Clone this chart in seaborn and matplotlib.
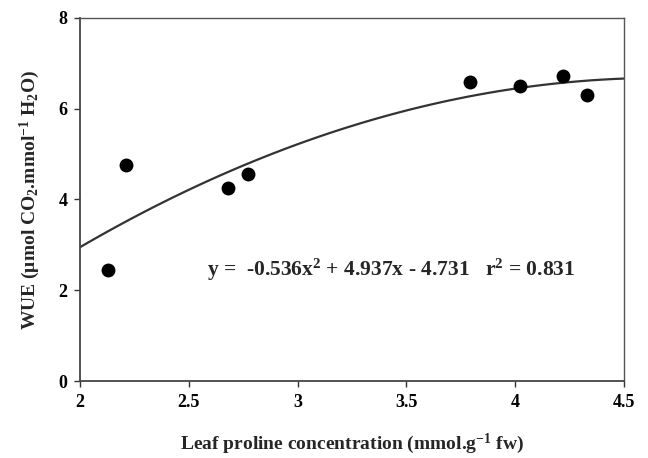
import numpy as np
import pandas as pd
import seaborn as sns
import matplotlib.pyplot as plt

# values
proline = [2.13, 2.21, 2.68, 2.77, 3.79, 4.02, 4.22, 4.33]
wue = [2.45, 4.75, 4.25, 4.55, 6.59, 6.50, 6.73, 6.30]
x_ticks = [2, 2.5, 3, 3.5, 4, 4.5]
x_tick_labels = ['2', '2.5', '3', '3.5', '4', '4.5']
y_ticks = [0, 2, 4, 6, 8]
eq_text = r'y =  -0.536x$^{2}$ + 4.937x - 4.731   r$^{2}$ = 0.831'

df = pd.DataFrame({'proline': proline, 'wue': wue})

sns.set_style('ticks')
plt.rcParams['font.family'] = ['Liberation Serif', 'DejaVu Serif']
plt.rcParams['font.weight'] = 'bold'
plt.rcParams['mathtext.fontset'] = 'custom'
plt.rcParams['mathtext.rm'] = 'Liberation Serif:bold'
plt.rcParams['mathtext.it'] = 'Liberation Serif:bold'
plt.rcParams['mathtext.bf'] = 'Liberation Serif:bold'

fig = plt.figure(figsize=(6.48, 4.58), dpi=100)
ax = fig.add_axes([0.1235, 0.168, 0.8395, 0.793])
ax.set_xlim(2, 4.5)
ax.set_ylim(0, 8)

sns.regplot(data=df, x='proline', y='wue', order=2, ci=None, truncate=False,
            scatter=False, ax=ax, line_kws={'color': '#333333', 'lw': 1.6})
sns.scatterplot(data=df, x='proline', y='wue', ax=ax, color='black', s=100,
                edgecolor='black', linewidth=0, zorder=3)

ax.set_xlim(2, 4.5)
ax.set_ylim(0, 8)
ax.set_xticks(x_ticks)
ax.set_xticklabels(x_tick_labels)
ax.set_yticks(y_ticks)
ax.tick_params(direction='out', length=4, width=1, colors='#333333',
               labelsize=13, labelcolor='black', pad=5)
for lab in ax.get_xticklabels() + ax.get_yticklabels():
    lab.set_fontweight('bold')

for side in ['left', 'bottom']:
    ax.spines[side].set_linewidth(1.3)
    ax.spines[side].set_color('#444444')
for side in ['top', 'right']:
    ax.spines[side].set_linewidth(1.0)
    ax.spines[side].set_color('#555555')

ax.set_xlabel(r'Leaf proline concentration (mmol.g$^{-1}$ fw)', fontsize=14,
              fontweight='bold', labelpad=15)
ax.set_ylabel(r'WUE ($\mu$mol CO$_{2}$.mmol$^{-1}$ H$_{2}$O)', fontsize=14,
              fontweight='bold', labelpad=12)

ax.text(0.572, 0.307, eq_text, transform=ax.transAxes, ha='center',
        va='center', fontsize=15.5, fontweight='bold')

fig.savefig('out.png', dpi=100)
plt.close()
